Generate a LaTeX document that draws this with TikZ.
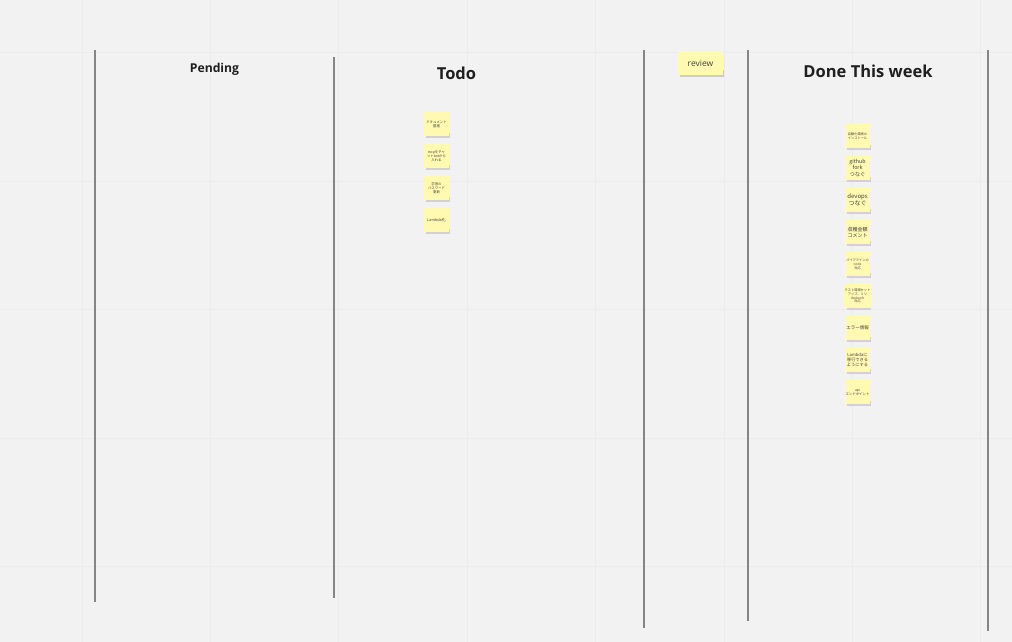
\documentclass[tikz,border=0pt]{standalone}
\usepackage{fontspec}
\setmainfont{Open Sans}
\newfontfamily\jp{Noto Sans CJK JP}
\begin{document}
\begin{tikzpicture}[x=1pt,y=-1pt,
  grid/.style={draw=black!8,line width=0.8pt},
  colline/.style={draw=black!48,line width=1.1pt},
  title/.style={font=\bfseries,text=black!88,inner sep=0pt,anchor=center},
  sticky/.style={fill=stickycol,minimum width=25pt,minimum height=24pt,inner sep=0.5pt,
     align=center,text=black!75}]
\definecolor{stickycol}{HTML}{FFF9B1}
\definecolor{bg}{HTML}{F2F2F2}
\fill[bg] (0,0) rectangle (1012,642);
\useasboundingbox (0,0) rectangle (1012,642);
% grid
\foreach \gx in {82,210,338,467,595,724,852,980} \draw[grid] (\gx,0) -- (\gx,642);
\foreach \gy in {52,181,309,438,566} \draw[grid] (0,\gy) -- (1012,\gy);
% column lines
\coordinate (c1t) at (95,50); \coordinate (c1b) at (95,602);
\coordinate (c2t) at (334,57); \coordinate (c2b) at (334,598);
\coordinate (c3t) at (644,50); \coordinate (c3b) at (644,628);
\coordinate (c4t) at (748,50); \coordinate (c4b) at (748,621);
\coordinate (c5t) at (988,50); \coordinate (c5b) at (988,631);
\draw[colline] (c1t) -- (c1b);
\draw[colline] (c2t) -- (c2b);
\draw[colline] (c3t) -- (c3b);
\draw[colline] (c4t) -- (c4b);
\draw[colline] (c5t) -- (c5b);
% titles
\node[title,font=\bfseries\fontsize{12.2}{14}\selectfont] (pending) at (214.5,69) {Pending};
\node[title,font=\bfseries\fontsize{16.5}{19}\selectfont] (todo) at (456.5,73) {Todo};
\node[title,font=\bfseries\fontsize{16.5}{19}\selectfont] (done) at (868,71) {Done This week};
% review sticky
\fill[black!20] (680,70) rectangle (724,77);
\node[sticky,minimum width=45pt,minimum height=23pt,font=\fontsize{8.5}{10}\selectfont] (review) at (700.5,63.5) {review};
% todo stickies
\foreach \yy/\nm/\fs/\tx in {124/t1/3.4/{ドキュメント\\整理},156/t2/3.4/{mcpをチャ\\ットbotから\\入れる},188/t3/3.4/{学習の\\パスワード\\更新},220/t4/3.8/{Lambda化}}{
  \pgfmathsetmacro\bs{\fs*1.2}
  \fill[black!18] (425.5,\yy+9) rectangle (449.5,\yy+14);
  \node[sticky,font=\jp\fontsize{\fs}{\bs}\selectfont] (\nm) at (436.5,\yy) {\tx};
}
% done stickies
\foreach \yy/\nm/\fs/\tx in {136/d1/3.2/{自動化環境の\\インストール},168/d2/5.3/{github\\fork\\つなぐ},200/d3/6/{devops\\つなぐ},232/d4/5/{収穫金額\\コメント},264/d5/3.2/{パイプラインの\\node\\対応},296/d6/3.2/{テスト環境セット\\アップ、リリ\\dockerの\\対応},328/d7/4.5/{エラー情報},360/d8/4.2/{Lambdaに\\移行できる\\ようにする},392/d9/3.4/{api\\エンドポイント}}{
  \pgfmathsetmacro\bs{\fs*1.2}
  \fill[black!18] (846.5,\yy+9) rectangle (870.5,\yy+14);
  \node[sticky,font=\jp\fontsize{\fs}{\bs}\selectfont] (\nm) at (857.5,\yy) {\tx};
}
\end{tikzpicture}
\end{document}
